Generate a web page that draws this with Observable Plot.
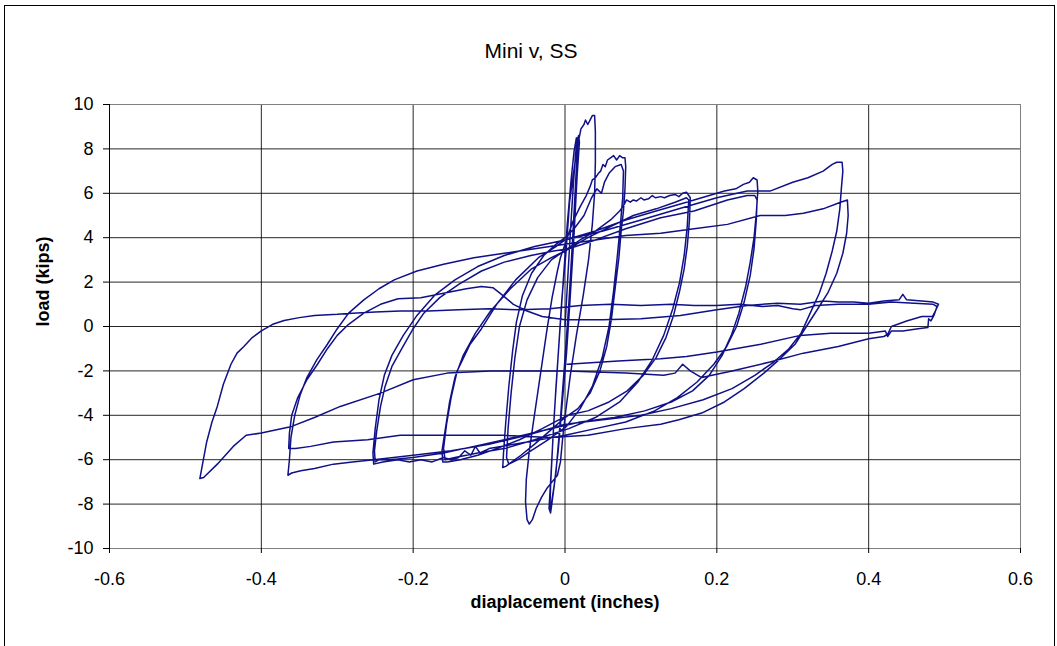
<!DOCTYPE html>
<html><head><meta charset="utf-8">
<script src="https://cdn.jsdelivr.net/npm/d3@7"></script>
<script src="https://cdn.jsdelivr.net/npm/@observablehq/plot@0.6"></script>
<style>
body{margin:0;background:#fff}
#wrap{position:relative;width:1057px;height:646px;overflow:hidden}
#border{position:absolute;left:4px;top:5px;width:1051px;height:660px;border:1px solid #000;box-sizing:border-box;pointer-events:none}
</style>
</head><body>
<div id="wrap"><div id="chart"></div><div id="border"></div></div>
<script>
// ---- data: [displacement (in), load (kips)] in test order ----
const cycle002 = [[0,0],[0.003,1.8],[0.007,4.2],[0.011,6.4],[0.014,7.8],[0.016,8.4],[0.018,8.6],[0.019,8.3],[0.016,6.8],[0.012,4.2],[0.007,1.4],[0.002,-1.2],[-0.004,-3.6],[-0.009,-5.6],[-0.014,-7.1],[-0.018,-8.0],[-0.020,-8.3],[-0.019,-7.2],[-0.016,-5.1],[-0.012,-2.8],[-0.007,-0.3],[-0.002,2.2],[0.003,4.6],[0.008,6.6],[0.012,7.9],[0.015,8.5],[0.017,8.4],[0.014,6.5],[0.010,3.9],[0.005,1.0],[-0.001,-1.9],[-0.007,-4.6],[-0.012,-6.6],[-0.017,-7.9],[-0.019,-8.4],[-0.021,-8.2],[-0.018,-6.4],[-0.014,-3.9],[-0.009,-1.3],[-0.004,1.3],[0.001,3.2]];
const cycle004 = [[0.006,5.6],[0.012,7.1],[0.017,8.2],[0.021,8.9],[0.025,9.1],[0.027,9.3],[0.030,9.1],[0.033,9.3],[0.036,9.5],[0.039,9.5],[0.040,8.8],[0.040,7.4],[0.039,6.0],[0.036,4.6],[0.031,3.0],[0.024,1.4],[0.015,-0.4],[0.007,-2.2],[0.001,-3.8],[-0.003,-5.0],[-0.006,-6.1],[-0.010,-6.7],[-0.017,-7.0],[-0.024,-7.3],[-0.031,-7.7],[-0.038,-8.2],[-0.043,-8.7],[-0.047,-8.9],[-0.050,-8.7],[-0.052,-7.9],[-0.051,-6.9],[-0.047,-5.6],[-0.042,-4.4],[-0.036,-3.0],[-0.030,-1.6],[-0.024,-0.2],[-0.017,1.3],[-0.010,2.5],[-0.006,3.1],[0.002,3.9]];
const cycle008 = [[0.010,4.7],[0.020,5.4],[0.028,5.9],[0.033,6.3],[0.036,6.6],[0.040,6.7],[0.044,6.9],[0.047,7.0],[0.050,7.3],[0.053,7.2],[0.056,7.5],[0.060,7.6],[0.064,7.7],[0.068,7.5],[0.072,7.7],[0.076,7.6],[0.079,7.6],[0.080,7.2],[0.079,6.2],[0.077,5.2],[0.074,4.3],[0.071,3.1],[0.066,1.7],[0.061,0.3],[0.055,-0.9],[0.046,-2.0],[0.033,-3.0],[0.017,-3.7],[0.000,-4.1],[-0.020,-4.7],[-0.040,-5.3],[-0.058,-5.8],[-0.070,-6.1],[-0.078,-6.3],[-0.082,-6.35],[-0.081,-5.7],[-0.078,-4.3],[-0.074,-2.7],[-0.069,-1.1],[-0.064,0.2],[-0.056,1.4],[-0.044,2.4],[-0.028,3.2],[-0.012,3.7],[0.000,4.0],
 [0.012,4.4],[0.025,5.0],[0.035,5.8],[0.042,6.2],[0.048,6.0],[0.052,6.5],[0.058,6.9],[0.066,7.2],[0.074,7.3],[0.077,7.0],[0.076,5.8],[0.073,4.6],[0.069,3.2],[0.064,1.6],[0.058,0.0],[0.049,-1.4],[0.036,-2.7],[0.020,-3.7],[0.002,-4.5],[-0.022,-5.1],[-0.045,-5.6],[-0.062,-6.0],[-0.074,-6.2],[-0.077,-5.9],[-0.075,-4.6],[-0.071,-3.0],[-0.066,-1.4],[-0.060,0.0],[-0.050,1.2],[-0.036,2.2],[-0.018,3.0],[0.003,3.5]];
const cycle016 = [[0.020,3.9],[0.040,4.3],[0.060,4.8],[0.072,5.2],[0.078,5.5],[0.081,5.7],[0.086,5.6],[0.090,5.7],[0.094,5.65],[0.100,5.8],[0.104,5.7],[0.110,5.75],[0.115,5.9],[0.119,5.8],[0.126,5.85],[0.131,5.8],[0.138,5.9],[0.145,5.95],[0.150,5.85],[0.155,6.0],[0.160,6.05],[0.163,5.9],[0.165,5.8],[0.164,4.8],[0.161,3.6],[0.157,2.6],[0.151,1.6],[0.143,0.5],[0.133,-0.5],[0.120,-1.4],[0.103,-2.2],[0.082,-2.9],[0.058,-3.4],[0.030,-3.8],[0.003,-4.0],[-0.030,-4.6],[-0.060,-5.1],[-0.090,-5.5],[-0.115,-5.8],[-0.138,-6.0],[-0.155,-6.1],[-0.161,-6.1],[-0.162,-5.6],[-0.158,-4.7],[-0.152,-3.4],[-0.145,-2.3],[-0.134,-1.3],[-0.118,-0.3],[-0.098,0.7],[-0.072,1.7],[-0.044,2.6],[-0.018,3.1],[0.000,3.4],
 [0.030,4.0],[0.060,4.5],[0.090,5.0],[0.120,5.3],[0.145,5.6],[0.160,5.8],[0.163,5.7],[0.161,4.5],[0.157,3.2],[0.151,2.0],[0.142,0.8],[0.130,-0.4],[0.115,-1.5],[0.096,-2.5],[0.072,-3.4],[0.040,-4.1],[0.005,-4.6],[-0.040,-5.1],[-0.080,-5.5],[-0.115,-5.7],[-0.145,-5.9],[-0.158,-6.0],[-0.160,-5.5],[-0.156,-4.4],[-0.150,-3.2],[-0.142,-2.0],[-0.125,-0.8],[-0.110,-0.1],[-0.090,1.0],[-0.065,2.1],[-0.035,3.1],[-0.012,3.6],[0.000,3.9]];
const cycle025 = [[0.040,4.3],[0.080,4.8],[0.120,5.2],[0.160,5.6],[0.190,5.9],[0.210,6.1],[0.225,6.2],[0.235,6.4],[0.243,6.5],[0.248,6.7],[0.253,6.6],[0.254,6.1],[0.252,5.1],[0.249,4.0],[0.244,2.9],[0.238,1.8],[0.229,0.6],[0.219,-0.4],[0.207,-1.3],[0.190,-2.2],[0.168,-2.9],[0.140,-3.4],[0.105,-3.8],[0.065,-4.1],[0.020,-4.3],[-0.030,-4.7],[-0.080,-5.1],[-0.120,-5.4],[-0.160,-5.7],[-0.200,-5.9],[-0.230,-6.0],[-0.245,-6.0],[-0.250,-6.1],
 [-0.251,-5.6],[-0.248,-4.7],[-0.243,-3.6],[-0.237,-2.7],[-0.228,-1.8],[-0.215,-1.0],[-0.200,-0.1],[-0.186,0.6],[-0.165,1.3],[-0.140,1.9],[-0.110,2.5],[-0.080,2.9],[-0.045,3.2],[-0.015,3.4],[0.005,3.5],[0.040,3.9],[0.080,4.4],[0.126,4.9],[0.170,5.2],[0.214,5.7],[0.240,5.9],[0.250,5.9],[0.253,5.7],
 [0.252,4.8],[0.249,3.5],[0.244,2.3],[0.236,1.1],[0.226,0.0],[0.213,-0.9],[0.196,-1.7],[0.174,-2.5],[0.148,-3.2],[0.118,-3.8],[0.080,-4.3],[0.040,-4.6],[0.000,-4.9],[-0.050,-5.2],[-0.100,-5.5],[-0.112,-5.7],[-0.118,-5.4],[-0.124,-5.8],[-0.132,-5.6],[-0.140,-5.9],[-0.150,-6.0],[-0.160,-5.9],[-0.175,-6.1],[-0.190,-6.0],[-0.205,-6.1],[-0.220,-6.0],[-0.240,-6.1],[-0.252,-6.2],
 [-0.253,-5.7],[-0.250,-4.6],[-0.245,-3.3],[-0.238,-2.2],[-0.228,-1.3],[-0.213,-0.4],[-0.195,0.5],[-0.172,1.4],[-0.145,2.1],[-0.115,2.7],[-0.080,3.2],[-0.040,3.6],[0.000,3.9],[0.050,4.3],[0.100,4.8],[0.150,5.3],[0.200,5.8],[0.240,6.1],[0.270,6.1],[0.300,6.5],[0.320,6.7],[0.340,7.0],[0.352,7.3],[0.358,7.4],[0.365,7.4]];
const cycle037 = [[0.366,7.0],[0.364,6.2],[0.362,5.3],[0.358,4.3],[0.352,3.4],[0.344,2.4],[0.335,1.5],[0.323,0.6],[0.311,-0.3],[0.295,-1.0],[0.275,-1.6],[0.250,-2.2],[0.220,-2.8],[0.182,-3.3],[0.140,-3.7],[0.100,-4.0],[0.050,-4.2],[0.000,-4.4],[-0.050,-4.9],[-0.100,-5.3],[-0.150,-5.6],[-0.200,-5.8],[-0.252,-6.0],[-0.280,-6.1],[-0.305,-6.2],[-0.330,-6.4],[-0.348,-6.5],[-0.360,-6.6],[-0.365,-6.7],
 [-0.363,-6.0],[-0.361,-5.0],[-0.356,-4.0],[-0.349,-3.1],[-0.340,-2.3],[-0.327,-1.5],[-0.313,-0.8],[-0.300,-0.1],[-0.285,0.6],[-0.265,1.2],[-0.245,1.7],[-0.225,2.1],[-0.195,2.5],[-0.160,2.8],[-0.120,3.1],[-0.080,3.3],[-0.040,3.5],[0.000,3.7],[0.040,3.9],[0.080,4.1],[0.126,4.2],[0.170,4.4],[0.214,4.6],[0.257,5.0],[0.290,5.0],[0.314,5.1],[0.340,5.3],[0.363,5.6],[0.372,5.7],
 [0.373,5.0],[0.371,4.2],[0.366,3.3],[0.358,2.4],[0.346,1.5],[0.333,0.8],[0.318,0.0],[0.303,-0.8],[0.285,-1.4],[0.262,-2.1],[0.236,-2.8],[0.210,-3.4],[0.180,-3.9],[0.150,-4.2],[0.126,-4.4],[0.080,-4.6],[0.030,-4.9],[-0.020,-5.0],[-0.080,-4.9],[-0.140,-4.9],[-0.217,-4.9],[-0.260,-5.1],[-0.305,-5.2],[-0.335,-5.4],[-0.355,-5.5],[-0.364,-5.5],
 [-0.363,-4.8],[-0.360,-4.0],[-0.352,-3.2],[-0.340,-2.4],[-0.326,-1.7],[-0.313,-1.0],[-0.300,-0.4],[-0.285,0.1],[-0.265,0.6],[-0.243,1.0],[-0.220,1.25],[-0.190,1.3],[-0.160,1.5],[-0.130,1.7],[-0.110,1.8],[-0.095,1.75],[-0.082,1.4],[-0.068,1.0],[-0.050,0.7],[-0.030,0.45]];
const cycle049 = [[0.000,0.3],[0.050,0.3],[0.100,0.35],[0.152,0.5],[0.200,0.75],[0.240,0.95],[0.280,1.05],[0.310,1.0],[0.340,1.15],[0.360,1.1],[0.380,1.1],[0.400,1.05],[0.420,1.15],[0.440,1.2],[0.445,1.45],[0.450,1.2],[0.470,1.15],[0.485,1.1],[0.492,1.0],
 [0.488,0.7],[0.484,0.45],[0.470,0.45],[0.450,0.25],[0.430,0.0],[0.425,-0.35],[0.420,-0.45],[0.400,-0.55],[0.360,-0.9],[0.314,-1.2],[0.270,-1.6],[0.220,-2.0],[0.180,-2.3],[0.165,-2.0],[0.155,-1.7],[0.145,-2.1],[0.130,-2.2],[0.080,-2.1],[0.003,-2.0],[-0.050,-2.0],[-0.098,-2.0],[-0.155,-2.1],[-0.200,-2.4],[-0.243,-3.0],[-0.296,-3.6],[-0.330,-4.1],[-0.360,-4.5],[-0.400,-4.8],[-0.420,-4.9],[-0.437,-5.4],[-0.458,-6.2],[-0.476,-6.8],[-0.481,-6.85],
 [-0.478,-6.3],[-0.472,-5.2],[-0.465,-4.3],[-0.458,-3.6],[-0.450,-2.6],[-0.440,-1.7],[-0.432,-1.2],[-0.423,-0.9],[-0.412,-0.5],[-0.400,-0.2],[-0.385,0.1],[-0.370,0.27],[-0.350,0.4],[-0.330,0.5],[-0.300,0.55],[-0.280,0.6],[-0.250,0.65],[-0.217,0.7],[-0.180,0.7],[-0.140,0.75],[-0.100,0.8],[-0.060,0.75],[-0.020,0.8],[0.020,0.95],[0.060,1.0],[0.100,0.95],[0.140,1.0],[0.170,0.95],[0.200,0.95],[0.230,1.0],[0.260,0.9],[0.280,0.95],[0.300,0.8],[0.310,0.75],[0.330,0.95],[0.360,1.0],[0.400,1.0],[0.430,1.1],[0.460,1.05],[0.485,1.0],[0.490,0.9],
 [0.486,0.5],[0.482,0.25],[0.479,0.35],[0.478,-0.05],[0.465,-0.1],[0.445,-0.2],[0.430,-0.2],[0.425,-0.45],[0.422,-0.2],[0.400,-0.3],[0.350,-0.3],[0.310,-0.4],[0.258,-0.8],[0.200,-1.15],[0.160,-1.35],[0.126,-1.45],[0.070,-1.55],[0.003,-1.7]];

const xTicks = [-0.6, -0.4, -0.2, 0, 0.2, 0.4, 0.6];
const yTicks = [-10, -8, -6, -4, -2, 0, 2, 4, 6, 8, 10];
const title = "Mini v, SS";
const xLabel = "diaplacement (inches)";
const yLabel = "load (kips)";

const path = [...cycle002, ...cycle004, ...cycle008, ...cycle016, ...cycle025, ...cycle037, ...cycle049]
  .map(([disp, load]) => ({disp, load}));

const fmt = d => String(+d.toFixed(1));

const chart = Plot.plot({
  width: 1057, height: 646,
  marginLeft: 109, marginRight: 37, marginTop: 104, marginBottom: 98,
  x: {domain: [-0.6, 0.6]},
  y: {domain: [-10, 10]},
  style: {fontFamily: "'Liberation Sans', Arial, sans-serif", fontSize: "18px", color: "#000", background: "#fff"},
  marks: [
    Plot.gridX(xTicks.slice(1, -1), {stroke: "#000", strokeOpacity: 0.85}),
    Plot.gridY(yTicks.slice(1), {stroke: "#000", strokeOpacity: 0.85}),
    Plot.frame({stroke: "#808080"}),
    Plot.ruleX([-0.6], {stroke: "#000"}),
    Plot.axisX(xTicks, {tickSize: 5, tickPadding: 19, tickFormat: fmt, label: null, fontSize: 18, stroke: "#000"}),
    Plot.axisY(yTicks, {tickSize: 6, tickPadding: 10, tickFormat: fmt, label: null, fontSize: 18, stroke: "#000"}),
    Plot.line(path, {x: "disp", y: "load", stroke: "#101088", strokeWidth: 1.5, strokeLinejoin: "round"}),
    Plot.text([title], {frameAnchor: "top", dy: -61, dx: -34, fontSize: 21}),
    Plot.text([xLabel], {frameAnchor: "bottom", dy: 59, fontSize: 18, fontWeight: "bold"}),
    Plot.text([yLabel], {frameAnchor: "left", dx: -66, rotate: -90, fontSize: 18, fontWeight: "bold"})
  ]
});
document.getElementById("chart").appendChild(chart);
</script>
</body></html>
